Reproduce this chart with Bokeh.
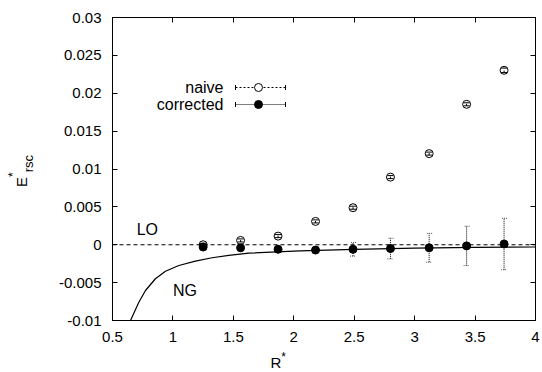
from bokeh.plotting import figure
from bokeh.layouts import row, column
from bokeh.models import (Range1d, LinearAxis, FixedTicker, Label, Arrow, Div,
                          BoxAnnotation, Whisker, ColumnDataSource, Span, TeeHead)
from bokeh.embed import file_html
from bokeh.resources import INLINE

# ---------------- data ----------------
R = [1.25, 1.56, 1.87, 2.18, 2.49, 2.80, 3.12, 3.43, 3.74]
naive = [0.0000, 0.00057, 0.00114, 0.00308, 0.00489, 0.00893, 0.01203, 0.01854, 0.02303]
naive_err = [0.0002, 0.0002, 0.0002, 0.0002, 0.0002, 0.0002, 0.0002, 0.0002, 0.0003]
corrected = [-0.0003, -0.0004, -0.0006, -0.0007, -0.0006, -0.0005, -0.0004, -0.00015, 0.0001]
corrected_err = [0.0001, 0.0002, 0.0002, 0.0004, 0.0009, 0.00136, 0.0019, 0.0026, 0.0034]

ng_R = [0.649, 0.718, 0.773, 0.855, 0.938, 1.049, 1.186, 1.324, 1.462, 1.627,
        2.05, 2.50, 3.00, 3.50, 4.00]
ng_E = [-0.0100, -0.00759, -0.00604, -0.00449, -0.00349, -0.00274, -0.00217, -0.00172,
        -0.00141, -0.00111, -0.0008, -0.0006, -0.00045, -0.00035, -0.0003]

lo_level = 0.0

x_ticks = [0.5, 1, 1.5, 2, 2.5, 3, 3.5, 4]
x_tick_labels = ["0.5", "1", "1.5", "2", "2.5", "3", "3.5", "4"]
y_ticks = [-0.01, -0.005, 0, 0.005, 0.01, 0.015, 0.02, 0.025, 0.03]
y_tick_labels = ["-0.01", "-0.005", "0", "0.005", "0.01", "0.015", "0.02", "0.025", "0.03"]

FONT = "Liberation Sans"

# ---------------- figure ----------------
YDIV_W = 40
P_W, P_H = 542 - YDIV_W, 350
p = figure(width=P_W, height=P_H, output_backend="svg", toolbar_location=None,
           x_range=Range1d(0.5, 4), y_range=Range1d(-0.01, 0.03),
           min_border_left=112 - YDIV_W, min_border_right=7, min_border_top=17,
           min_border_bottom=P_H - 320)
p.xgrid.visible = False
p.ygrid.visible = False
p.outline_line_color = "black"
p.outline_line_width = 1
p.background_fill_color = "white"
p.border_fill_color = "white"


def style_axis(ax, ticks, labels, show_labels, standoff):
    ax.ticker = FixedTicker(ticks=ticks)
    ax.major_label_overrides = {t: l for t, l in zip(ticks, labels)}
    ax.major_tick_in = 5
    ax.major_tick_out = 0
    ax.minor_tick_line_color = None
    ax.axis_line_color = "black"
    ax.major_tick_line_color = "black"
    ax.major_label_text_font = FONT
    if show_labels:
        ax.major_label_text_color = "black"
        ax.major_label_text_font_size = "15px"
        ax.major_label_standoff = standoff
    else:
        ax.major_label_text_color = None
        ax.major_label_text_font_size = "1px"
        ax.major_label_standoff = 0


style_axis(p.xaxis[0], x_ticks, x_tick_labels, True, 11)
style_axis(p.yaxis[0], y_ticks, y_tick_labels, True, 11)
top_ax = LinearAxis()
right_ax = LinearAxis()
style_axis(top_ax, x_ticks, x_tick_labels, False, 0)
style_axis(right_ax, y_ticks, y_tick_labels, False, 0)
p.add_layout(top_ax, "above")
p.add_layout(right_ax, "right")

# ---------------- curves ----------------
p.line(ng_R, ng_E, line_color="black", line_width=1.2)
p.add_layout(Span(location=lo_level, dimension="width", line_color="black",
                  line_dash="4 3", line_width=1))

src_n = ColumnDataSource(dict(x=R, y=naive,
                              lo=[v - e for v, e in zip(naive, naive_err)],
                              hi=[v + e for v, e in zip(naive, naive_err)]))
src_c = ColumnDataSource(dict(x=R, y=corrected,
                              lo=[v - e for v, e in zip(corrected, corrected_err)],
                              hi=[v + e for v, e in zip(corrected, corrected_err)]))

p.add_layout(Whisker(source=src_n, base="x", upper="hi", lower="lo",
                     line_color="black", line_dash="2 2", line_width=1,
                     upper_head=TeeHead(size=6, line_color="black", line_width=1),
                     lower_head=TeeHead(size=6, line_color="black", line_width=1)))
p.add_layout(Whisker(source=src_c, base="x", upper="hi", lower="lo",
                     line_color="black", line_dash="1 1", line_width=1,
                     upper_head=TeeHead(size=6, line_color="#555555", line_width=1, line_dash="1 1"),
                     lower_head=TeeHead(size=6, line_color="#555555", line_width=1, line_dash="1 1")))

p.scatter("x", "y", source=src_n, marker="circle", size=8,
          fill_color=None, line_color="black", line_width=1)
p.scatter("x", "y", source=src_c, marker="circle", size=8,
          fill_color="black", line_color="black", line_width=1)

# ---------------- in-frame texts ----------------
FRAME_LEFT_PAGE = 112
FRAME_BOTTOM_PAGE = 320


def fx(px):
    return px - FRAME_LEFT_PAGE


def fy(py):
    return FRAME_BOTTOM_PAGE - py


p.add_layout(Label(x=0.70, y=0.002, text="LO", text_font=FONT, text_font_size="16px",
                   text_font_style="normal", text_color="black",
                   text_align="left", text_baseline="middle"))
p.add_layout(Label(x=1.0, y=-0.006, text="NG", text_font=FONT, text_font_size="16px",
                   text_font_style="normal", text_color="black",
                   text_align="left", text_baseline="middle"))

# legend (gnuplot style: text, then sample)
series_names = ["naive", "corrected"]
leg_y = [87, 104]
for name, yy, filled, dash in zip(series_names, leg_y, [False, True], ["2 2", "1 1"]):
    p.add_layout(Label(x=fx(223), y=fy(yy), x_units="screen", y_units="screen",
                       text=name, text_font=FONT, text_font_size="16px",
                       text_font_style="normal", text_color="black",
                       text_align="right", text_baseline="middle"))
    p.add_layout(Arrow(x_start=fx(235), y_start=fy(yy), x_end=fx(285), y_end=fy(yy),
                       start_units="screen", end_units="screen", start=None, end=None,
                       line_color="black", line_dash=dash, line_width=1))
    for ex in (235, 285):
        p.add_layout(Arrow(x_start=fx(ex), y_start=fy(yy - 2.5), x_end=fx(ex), y_end=fy(yy + 2.5),
                           start_units="screen", end_units="screen", start=None, end=None,
                           line_color="black", line_width=1))
    p.add_layout(BoxAnnotation(left=fx(254), right=fx(262), top=fy(yy - 4), bottom=fy(yy + 4),
                               left_units="screen", right_units="screen",
                               top_units="screen", bottom_units="screen",
                               border_radius=4, fill_color="black" if filled else "white",
                               fill_alpha=1.0, line_color="black", line_width=1, line_alpha=1.0))

# ---------------- axis titles (HTML text beside the figure) ----------------
base_css = ("position:absolute; white-space:nowrap; font-family:'Liberation Sans'; "
            "font-size:15px; line-height:15px; color:black;")
y_html = (
    f'<div style="position:relative; width:{YDIV_W}px; height:372px; overflow:hidden;">'
    f'<div style="{base_css} left:14px; top:186.7px; transform-origin:0 0; transform:rotate(-90deg);">'
    'E<span style="font-size:12px; position:relative; top:-9.8px;">*</span>'
    '<span style="font-size:13px; position:relative; top:6px;">rsc</span></div></div>'
)
x_html = (
    f'<div style="position:relative; width:{P_W}px; height:{372 - P_H}px; overflow:hidden;">'
    f'<div style="{base_css} left:{270.5 - YDIV_W}px; top:5px;">'
    'R<span style="font-size:12px; position:relative; top:-7px;">*</span></div></div>'
)
ydiv = Div(text=y_html, width=YDIV_W, height=372, margin=0)
xdiv = Div(text=x_html, width=P_W, height=372 - P_H, margin=0)

layout = row(ydiv, column(p, xdiv, spacing=0), spacing=0)

open("out.html", "w").write(file_html(layout, INLINE))
